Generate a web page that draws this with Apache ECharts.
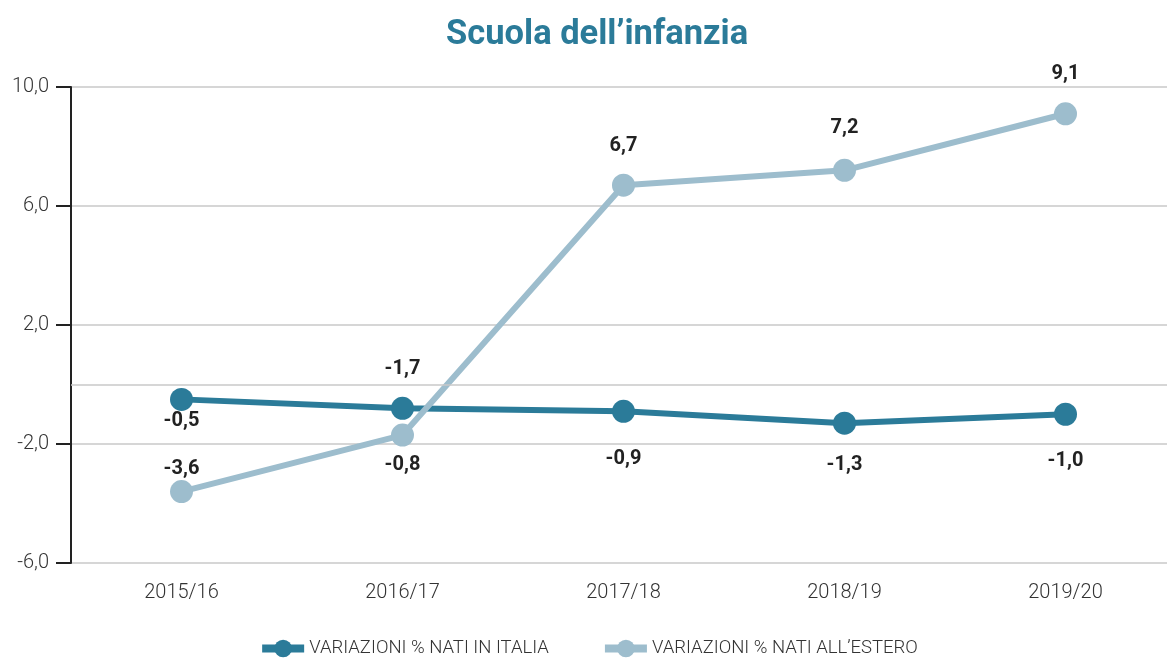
<!DOCTYPE html>
<html>
<head>
<meta charset="utf-8">
<script src="https://cdn.jsdelivr.net/npm/echarts@6/dist/echarts.min.js"></script>
<style>
html,body{margin:0;padding:0;background:#fff;overflow:hidden;}
#c{width:1176px;height:658px;}
</style>
</head>
<body>
<div id="c"></div>
<script>
const categories = ['2015/16', '2016/17', '2017/18', '2018/19', '2019/20'];
const natiItalia = [-0.5, -0.8, -0.9, -1.3, -1.0];
const natiEstero = [-3.6, -1.7, 6.7, 7.2, 9.1];
const seriesNames = ['VARIAZIONI % NATI IN ITALIA', 'VARIAZIONI % NATI ALL\u2019ESTERO'];
const yTicks = { min: -6, max: 10, interval: 4 };

// label placement (style only, px offsets from each point)
const labelDyItalia = [22, 57, 48, 42, 47];
const labelDyEstero = [-23, -66, -39, -42, -40];

const fmt = v => v.toFixed(1).replace('.', ',');
const withLabels = (vals, dys) => vals.map((v, i) => ({
  value: v,
  label: { offset: [0, dys[i]] }
}));

const chart = echarts.init(document.getElementById('c'));
const labelStyle = {
  show: true, position: 'inside',
  fontFamily: 'Roboto', fontWeight: 'bold', fontSize: 20, color: '#222',
  formatter: p => fmt(p.value)
};
chart.setOption({
  animation: false,
  textStyle: { fontFamily: 'Roboto' },
  title: {
    text: 'Scuola dell\u2019infanzia', left: 441, top: 13,
    textStyle: { fontFamily: 'Roboto', fontWeight: 'bold', fontSize: 34.5, color: '#2b7b99' }
  },
  legend: {
    top: 634, left: 'center', itemGap: 52, itemWidth: 42, itemHeight: 22,
    lineStyle: { width: 8 },
    textStyle: { fontFamily: 'Roboto', fontWeight: 300, fontSize: 18.5, color: '#333' },
    data: seriesNames
  },
  grid: { left: 71, right: 0, top: 87, bottom: 95, containLabel: false },
  xAxis: {
    type: 'category', data: categories, boundaryGap: true,
    axisLine: { show: false }, axisTick: { show: false },
    axisLabel: { fontFamily: 'Roboto', fontWeight: 300, fontSize: 20, color: '#333', margin: 20 }
  },
  yAxis: {
    type: 'value', min: yTicks.min, max: yTicks.max, interval: yTicks.interval,
    axisLine: { show: true, lineStyle: { color: '#222', width: 2 } },
    axisTick: { show: true, length: 15, lineStyle: { color: '#222', width: 2 } },
    axisLabel: { fontFamily: 'Roboto', fontWeight: 300, fontSize: 20, color: '#333', margin: 22, formatter: fmt },
    splitLine: { show: true, lineStyle: { color: '#c8c8c8', width: 1.5 } }
  },
  series: [
    {
      name: seriesNames[0], type: 'line', data: withLabels(natiItalia, labelDyItalia),
      symbol: 'circle', symbolSize: 23, z: 3,
      lineStyle: { color: '#2b7b99', width: 6 }, itemStyle: { color: '#2b7b99' },
      label: labelStyle,
      markLine: {
        silent: true, symbol: 'none', label: { show: false },
        lineStyle: { color: '#c8c8c8', width: 1.5, type: 'solid' },
        data: [{ yAxis: 0 }]
      }
    },
    {
      name: seriesNames[1], type: 'line', data: withLabels(natiEstero, labelDyEstero),
      symbol: 'circle', symbolSize: 23, z: 4,
      lineStyle: { color: '#9dbdcd', width: 6 }, itemStyle: { color: '#9dbdcd' },
      label: labelStyle
    }
  ]
});
</script>
</body>
</html>
